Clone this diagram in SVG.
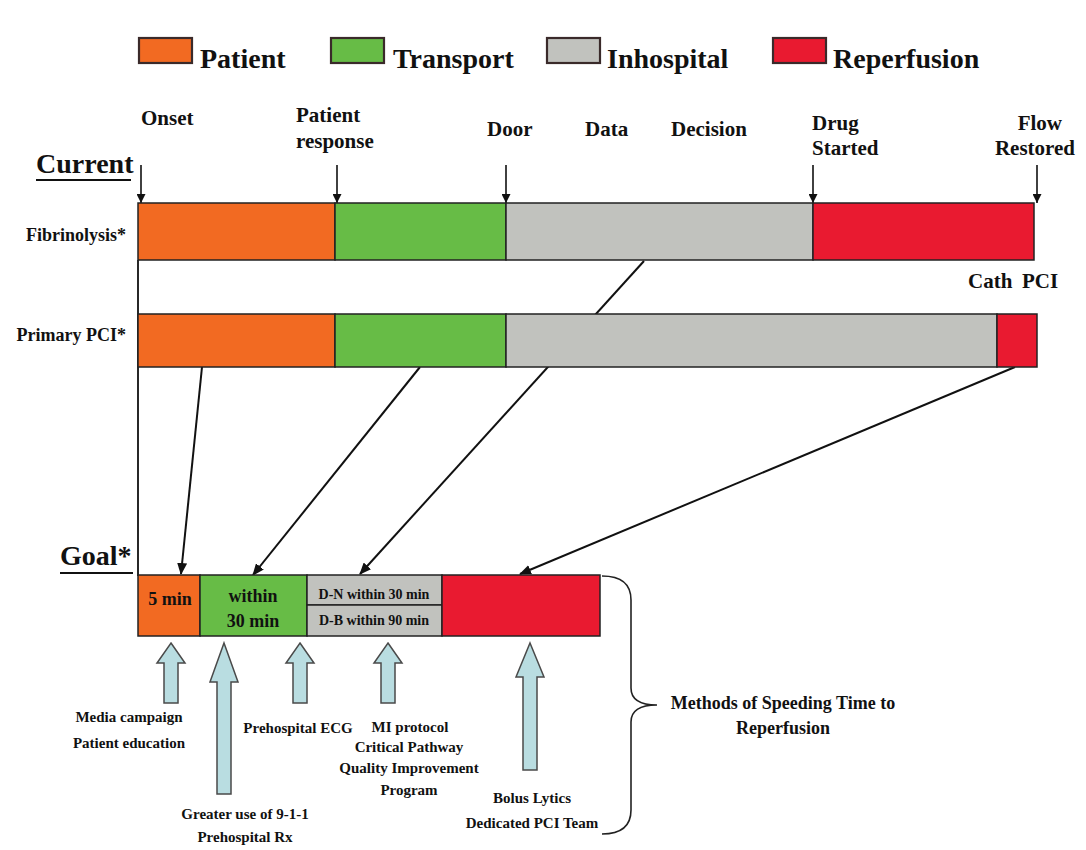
<svg xmlns="http://www.w3.org/2000/svg" width="1086" height="850" viewBox="0 0 1086 850">
<defs>
<style>
text{font-family:"Liberation Serif","Times New Roman",serif;font-weight:bold;fill:#111}
.leg{font-size:28px}
.hdr{font-size:21px}
.row{font-size:18px}
.cath{font-size:21px}
.meth{font-size:18px}
.sec{font-size:28px}
.goal{font-size:18px}
.gs{font-size:14px}
.note{font-size:15px}
.seg{stroke:#222;stroke-width:1.5}
.sw{stroke:#3a2a2a;stroke-width:2.2}
.or{fill:#F26A22}
.gr{fill:#67BC46}
.gy{fill:#C1C2BE}
.rd{fill:#E91A30}
.conn{stroke:#111;stroke-width:2;fill:none}
.tick{stroke:#111;stroke-width:1.6;fill:none}
.blk{fill:#B9DDE1;stroke:#4a4a4a;stroke-width:1.5}
</style>
<marker id="ah" markerWidth="12" markerHeight="10" refX="11" refY="5" orient="auto" markerUnits="userSpaceOnUse">
<path d="M0,0 L12,5 L0,10 Z" fill="#111"/>
</marker>
<marker id="ahs" markerWidth="9" markerHeight="9" refX="9" refY="4.5" orient="auto" markerUnits="userSpaceOnUse">
<path d="M0,0 L9,4.5 L0,9 Z" fill="#111"/>
</marker>
</defs>
<rect width="1086" height="850" fill="#fff"/>

<g id="legend">
<rect class="sw or" x="139" y="38" width="53" height="25"/>
<text class="leg" x="200" y="68">Patient</text>
<rect class="sw gr" x="331" y="38" width="53" height="25"/>
<text class="leg" x="393" y="68">Transport</text>
<rect class="sw gy" x="547" y="38" width="53" height="25"/>
<text class="leg" x="607" y="68">Inhospital</text>
<rect class="sw rd" x="773" y="38" width="53" height="25"/>
<text class="leg" x="833" y="68">Reperfusion</text>
</g>

<g id="timepoints">
<text class="hdr" x="141" y="125">Onset</text>
<text class="hdr" x="296" y="122">Patient</text>
<text class="hdr" x="296" y="148">response</text>
<text class="hdr" x="487" y="136">Door</text>
<text class="hdr" x="585" y="136">Data</text>
<text class="hdr" x="671" y="136">Decision</text>
<text class="hdr" x="812" y="130">Drug</text>
<text class="hdr" x="812" y="155">Started</text>
<text class="hdr" x="1062" y="130" text-anchor="end">Flow</text>
<text class="hdr" x="1075" y="155" text-anchor="end">Restored</text>
</g>

<g id="current-label">
<text class="sec" x="36" y="173">Current</text>
<line x1="36" y1="180" x2="131" y2="180" stroke="#111" stroke-width="2"/>
</g>

<g id="goal-label">
<text class="sec" x="60" y="565">Goal*</text>
<line x1="60" y1="573" x2="133" y2="573" stroke="#111" stroke-width="2"/>
</g>

<g id="connectors">
<line class="tick" x1="141" y1="165" x2="141" y2="203" marker-end="url(#ahs)"/>
<line class="tick" x1="337" y1="165" x2="337" y2="203" marker-end="url(#ahs)"/>
<line class="tick" x1="506" y1="165" x2="506" y2="203" marker-end="url(#ahs)"/>
<line class="tick" x1="813" y1="165" x2="813" y2="203" marker-end="url(#ahs)"/>
<line class="tick" x1="1037" y1="165" x2="1037" y2="203" marker-end="url(#ahs)"/>
<line x1="138" y1="260" x2="138" y2="576" stroke="#111" stroke-width="1.8"/>
<line class="conn" x1="644" y1="261" x2="360" y2="574" marker-end="url(#ah)"/>
<line class="conn" x1="202" y1="367" x2="181" y2="574" marker-end="url(#ah)"/>
<line class="conn" x1="420" y1="367" x2="253" y2="575" marker-end="url(#ah)"/>
<line class="conn" x1="1015" y1="367" x2="520" y2="574" marker-end="url(#ah)"/>
</g>

<g id="fibrinolysis">
<text class="row" x="126" y="241" text-anchor="end">Fibrinolysis*</text>
<rect class="seg or" x="138" y="203" width="197" height="57"/>
<rect class="seg gr" x="335" y="203" width="171" height="57"/>
<rect class="seg gy" x="506" y="203" width="307" height="57"/>
<rect class="seg rd" x="813" y="203" width="221" height="57"/>
</g>

<g id="cath-pci">
<text class="cath" x="968" y="288">Cath</text>
<text class="cath" x="1022" y="288">PCI</text>
</g>

<g id="primary-pci">
<text class="row" x="126" y="341" text-anchor="end">Primary PCI*</text>
<rect class="seg or" x="138" y="314" width="197" height="53"/>
<rect class="seg gr" x="335" y="314" width="171" height="53"/>
<rect class="seg gy" x="506" y="314" width="491" height="53"/>
<rect class="seg rd" x="997" y="314" width="40" height="53"/>
</g>

<g id="goal-bar">
<rect class="seg or" x="138" y="575" width="62" height="61"/>
<rect class="seg gr" x="200" y="575" width="107" height="61"/>
<rect class="seg gy" x="307" y="575" width="135" height="30"/>
<rect class="seg gy" x="307" y="605" width="135" height="31"/>
<rect class="seg rd" x="442" y="575" width="158" height="61"/>
<text class="goal" x="170" y="605" text-anchor="middle">5 min</text>
<text class="goal" x="253" y="602" text-anchor="middle">within</text>
<text class="goal" x="253" y="627" text-anchor="middle">30 min</text>
<text class="gs" x="374" y="599" text-anchor="middle">D-N within 30 min</text>
<text class="gs" x="374" y="625" text-anchor="middle">D-B within 90 min</text>
</g>

<g id="method-media">
<path class="blk" d="M171,643 L185,663 L178,663 L178,703 L164,703 L164,663 L157,663 Z"/>
<text class="note" x="129" y="722" text-anchor="middle">Media campaign</text>
<text class="note" x="129" y="748" text-anchor="middle">Patient education</text>
</g>

<g id="method-911">
<path class="blk" d="M224,643 L238,682 L231,682 L231,794 L217,794 L217,682 L210,682 Z"/>
<text class="note" x="245" y="819" text-anchor="middle">Greater use of  9-1-1</text>
<text class="note" x="245" y="842" text-anchor="middle">Prehospital Rx</text>
</g>

<g id="method-ecg">
<path class="blk" d="M300,643 L314,663 L307,663 L307,703 L293,703 L293,663 L286,663 Z"/>
<text class="note" x="298" y="733" text-anchor="middle">Prehospital ECG</text>
</g>

<g id="method-protocol">
<path class="blk" d="M388,643 L402,663 L395,663 L395,703 L381,703 L381,663 L374,663 Z"/>
<text class="note" x="410" y="732" text-anchor="middle">MI protocol</text>
<text class="note" x="409" y="752" text-anchor="middle">Critical Pathway</text>
<text class="note" x="409" y="773" text-anchor="middle">Quality Improvement</text>
<text class="note" x="409" y="795" text-anchor="middle">Program</text>
</g>

<g id="method-lytics">
<path class="blk" d="M530,643 L544,677 L537,677 L537,770 L523,770 L523,677 L516,677 Z"/>
<text class="note" x="532" y="803" text-anchor="middle">Bolus Lytics</text>
<text class="note" x="532" y="828" text-anchor="middle">Dedicated PCI Team</text>
</g>

<g id="methods-brace">
<path d="M602,576 Q631,576 631,600 L631,688 Q631,705 657,705 Q631,705 631,722 L631,810 Q631,834 602,834" fill="none" stroke="#222" stroke-width="1.6"/>
<text class="meth" x="783" y="709" text-anchor="middle">Methods of Speeding Time to</text>
<text class="meth" x="783" y="734" text-anchor="middle">Reperfusion</text>
</g>
</svg>
